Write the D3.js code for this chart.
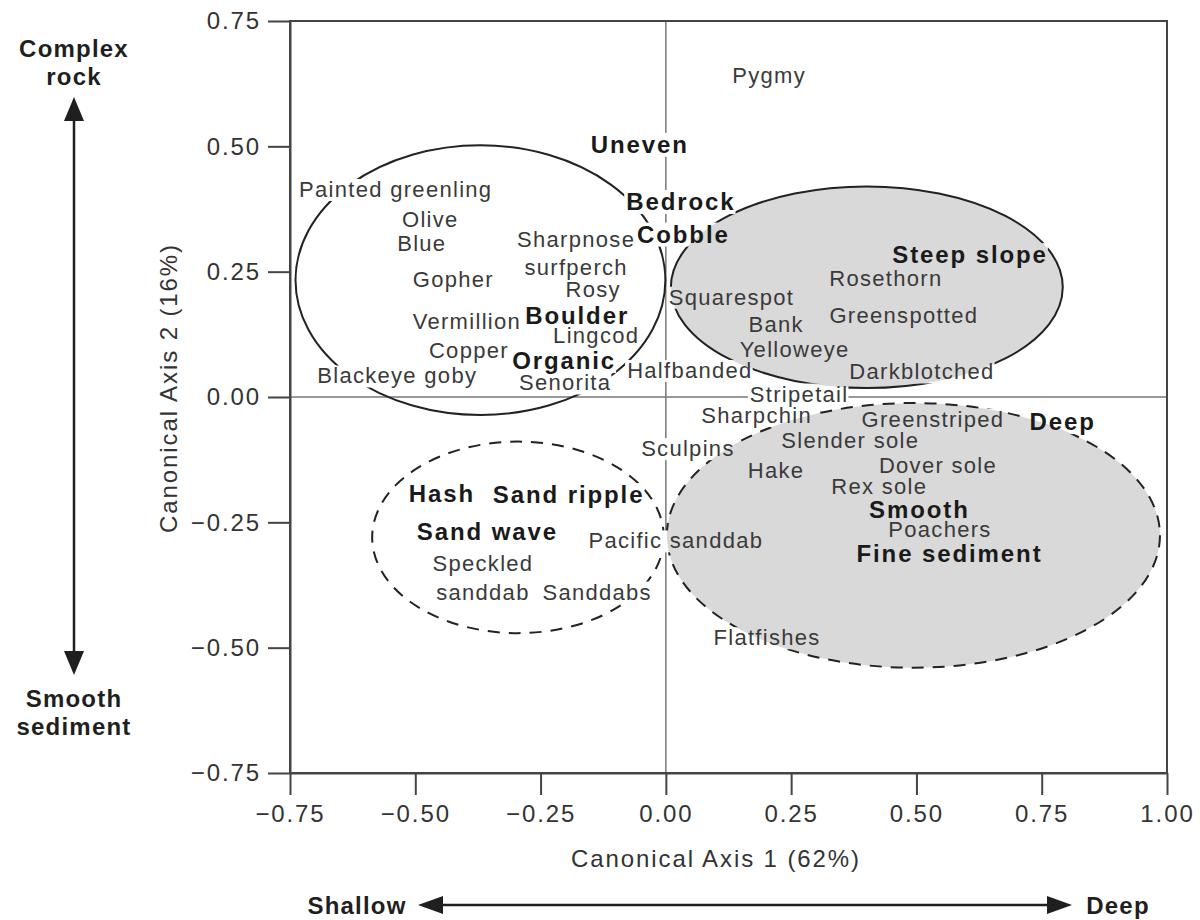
<!DOCTYPE html>
<html>
<head>
<meta charset="utf-8">
<script src="https://cdn.jsdelivr.net/npm/d3@7"></script>
<style>
  body { margin: 0; background: #fff; }
  svg { font-family: "Liberation Sans", Arial, Helvetica, sans-serif; }
</style>
</head>
<body>
<svg width="1200" height="920"></svg>
<script>
// tick values on both canonical axes
var xTicks = [-0.75, -0.5, -0.25, 0, 0.25, 0.5, 0.75, 1];
var yTicks = [-0.75, -0.5, -0.25, 0, 0.25, 0.5, 0.75];

// species scores [name, axis 1, axis 2] (label baseline)
var species = [
  ["Pygmy", 0.206, 0.626],
  ["Painted greenling", -0.539, 0.399],
  ["Olive", -0.470, 0.340],
  ["Blue", -0.487, 0.292],
  ["Gopher", -0.424, 0.219],
  ["Sharpnose\nsurfperch", -0.179, 0.300],
  ["Rosy", -0.145, 0.199],
  ["Vermillion", -0.397, 0.135],
  ["Lingcod", -0.139, 0.108],
  ["Copper", -0.393, 0.077],
  ["Blackeye goby", -0.536, 0.027],
  ["Senorita", -0.201, 0.013],
  ["Halfbanded", 0.048, 0.038],
  ["Squarespot", 0.131, 0.184],
  ["Bank", 0.220, 0.130],
  ["Yelloweye", 0.257, 0.080],
  ["Rosethorn", 0.439, 0.221],
  ["Greenspotted", 0.475, 0.148],
  ["Darkblotched", 0.511, 0.035],
  ["Stripetail", 0.266, -0.009],
  ["Sharpchin", 0.181, -0.052],
  ["Greenstriped", 0.533, -0.059],
  ["Sculpins", 0.044, -0.118],
  ["Slender sole", 0.368, -0.102],
  ["Hake", 0.220, -0.162],
  ["Dover sole", 0.543, -0.152],
  ["Rex sole", 0.426, -0.194],
  ["Poachers", 0.547, -0.279],
  ["Pacific sanddab", 0.020, -0.302],
  ["Speckled\nsanddab", -0.365, -0.348],
  ["Sanddabs", -0.137, -0.404],
  ["Flatfishes", 0.202, -0.495]
];

// habitat variables [name, axis 1, axis 2]
var habitats = [
  ["Uneven", -0.052, 0.487],
  ["Bedrock", 0.030, 0.373],
  ["Cobble", 0.035, 0.308],
  ["Steep slope", 0.607, 0.267],
  ["Boulder", -0.177, 0.146],
  ["Organic", -0.203, 0.056],
  ["Deep", 0.792, -0.066],
  ["Hash", -0.447, -0.209],
  ["Sand ripple", -0.194, -0.212],
  ["Sand wave", -0.356, -0.285],
  ["Smooth", 0.506, -0.241],
  ["Fine sediment", 0.566, -0.329]
];

// assemblage groups: centre and half-extent on each axis
var groupNames  = ["shallow rock", "deep rock", "shallow sediment", "deep sediment"];
var groupCx     = [-0.370, 0.401, -0.295, 0.494];
var groupCy     = [0.233, 0.219, -0.280, -0.276];
var groupRx     = [0.369, 0.391, 0.291, 0.492];
var groupRy     = [0.269, 0.201, 0.191, 0.264];

var groups = groupNames.map(function(n, i) {
  return {name: n, cx: groupCx[i], cy: groupCy[i], rx: groupRx[i], ry: groupRy[i],
          deep: n.indexOf("deep") === 0, sediment: n.indexOf("sediment") > 0};
});

var svg = d3.select("svg");
var shade = "#d9d9d9";

var x = d3.scaleLinear().domain([-0.75, 1]).range([290, 1167]);
var y = d3.scaleLinear().domain([-0.75, 0.75]).range([773, 21]);

var defs = svg.append("defs");

function ellipse(sel) {
  return sel
    .attr("cx", function(d) { return x(d.cx); })
    .attr("cy", function(d) { return y(d.cy); })
    .attr("rx", function(d) { return x(d.rx) - x(0); })
    .attr("ry", function(d) { return y(0) - y(d.ry); });
}

// shaded fills (not broken by labels)
svg.selectAll(".fill")
  .data(groups.filter(function(d) { return d.deep; }))
  .enter().append("ellipse")
  .attr("class", "fill")
  .call(ellipse)
  .style("fill", shade);

// lines that the labels break
var lines = svg.append("g").attr("mask", "url(#labelGaps)");

lines.append("line")
  .attr("x1", x(0)).attr("x2", x(0)).attr("y1", y(0.75)).attr("y2", y(-0.75))
  .style("stroke", "#777").style("stroke-width", 1.5);
lines.append("line")
  .attr("x1", x(-0.75)).attr("x2", x(1)).attr("y1", y(0)).attr("y2", y(0))
  .style("stroke", "#777").style("stroke-width", 1.5);

lines.selectAll(".group")
  .data(groups)
  .enter().append("ellipse")
  .attr("class", "group")
  .call(ellipse)
  .style("fill", "none")
  .style("stroke", "#222")
  .style("stroke-width", 2)
  .style("stroke-dasharray", function(d) { return d.sediment ? "12,9" : null; });

var labels = species.map(function(d) { return {name: d[0], x: d[1], y: d[2], bold: false}; })
  .concat(habitats.map(function(d) { return {name: d[0], x: d[1], y: d[2], bold: true}; }));

var texts = svg.append("g").selectAll("text")
  .data(labels)
  .enter().append("text")
  .attr("x", function(d) { return x(d.x); })
  .attr("y", function(d) { return y(d.y); })
  .attr("text-anchor", "middle")
  .style("font-size", function(d) { return d.bold ? "24px" : "22px"; })
  .style("font-weight", function(d) { return d.bold ? "bold" : "normal"; })
  .style("letter-spacing", function(d) { return d.bold ? "1.9px" : "1.3px"; })
  .style("fill", function(d) { return d.bold ? "#1a1a1a" : "#3a3a3a"; });

texts.each(function(d) {
  d3.select(this).selectAll("tspan")
    .data(d.name.split("\n"))
    .enter().append("tspan")
    .attr("x", x(d.x))
    .attr("dy", function(l, i) { return i === 0 ? 0 : 28.3; })
    .text(function(l) { return l; });
});

// gaps in the lines behind each label line
var gaps = [];
texts.selectAll("tspan").each(function() {
  var b = this.getBBox();
  gaps.push({x: b.x, y: b.y + 3, w: b.width, h: b.height - 5});
});
var mask = defs.append("mask").attr("id", "labelGaps")
  .attr("maskUnits", "userSpaceOnUse")
  .attr("x", 0).attr("y", 0).attr("width", 1200).attr("height", 920);
mask.append("rect").attr("width", 1200).attr("height", 920).style("fill", "#fff");
mask.selectAll(".gap")
  .data(gaps)
  .enter().append("rect")
  .attr("class", "gap")
  .attr("x", function(d) { return d.x - 2; })
  .attr("y", function(d) { return d.y - 1; })
  .attr("width", function(d) { return d.w + 2; })
  .attr("height", function(d) { return d.h + 2; })
  .style("fill", "#000");

// frame
svg.append("rect")
  .attr("x", x(-0.75)).attr("y", y(0.75))
  .attr("width", x(1) - x(-0.75)).attr("height", y(-0.75) - y(0.75))
  .style("fill", "none").style("stroke", "#444").style("stroke-width", 2);

// axes
var fmt = d3.format(".2f");
var xAxis = svg.append("g")
  .attr("transform", "translate(0," + y(-0.75) + ")")
  .call(d3.axisBottom(x).tickValues(xTicks).tickFormat(fmt).tickSize(22).tickSizeOuter(0).tickPadding(8));
var yAxis = svg.append("g")
  .attr("transform", "translate(" + x(-0.75) + ",0)")
  .call(d3.axisLeft(y).tickValues(yTicks).tickFormat(fmt).tickSize(22).tickSizeOuter(0).tickPadding(8));

[xAxis, yAxis].forEach(function(a) {
  a.select(".domain").style("stroke", "#444").style("stroke-width", 2);
  a.selectAll(".tick line").style("stroke", "#444").style("stroke-width", 2);
  a.selectAll(".tick text")
    .style("font-family", "'Liberation Sans', Arial, sans-serif")
    .style("font-size", "24px").style("letter-spacing", "1.9px").style("fill", "#333");
});
xAxis.selectAll(".tick text").attr("dy", "0.78em");
yAxis.selectAll(".tick text").attr("x", -29);

// axis titles
svg.append("text")
  .attr("x", 716).attr("y", 867)
  .attr("text-anchor", "middle")
  .style("font-size", "24px").style("letter-spacing", "1.9px").style("fill", "#333")
  .text("Canonical Axis 1 (62%)");
svg.append("text")
  .attr("transform", "translate(177,388) rotate(-90)")
  .attr("text-anchor", "middle")
  .style("font-size", "24px").style("letter-spacing", "1.9px").style("fill", "#333")
  .text("Canonical Axis 2 (16%)");

// gradient annotations
var ink = "#1f1f1f";
function note(tx, ty, lines) {
  var t = svg.append("text")
    .attr("x", tx).attr("y", ty)
    .attr("text-anchor", "middle")
    .style("font-size", "24px").style("font-weight", "bold")
    .style("letter-spacing", "1.2px").style("fill", ink);
  lines.forEach(function(l, i) {
    t.append("tspan").attr("x", tx).attr("dy", i === 0 ? 0 : 28).text(l);
  });
}
note(74, 57, ["Complex", "rock"]);
note(74, 707, ["Smooth", "sediment"]);
note(357, 914, ["Shallow"]);
note(1118, 914, ["Deep"]);

svg.append("line")
  .attr("x1", 74).attr("x2", 74).attr("y1", 115).attr("y2", 660)
  .style("stroke", ink).style("stroke-width", 2.5);
svg.append("path").attr("d", "M74,97 L64,121 L84,121 Z").style("fill", ink);
svg.append("path").attr("d", "M74,675 L64,651 L84,651 Z").style("fill", ink);

svg.append("line")
  .attr("x1", 436).attr("x2", 1054).attr("y1", 905).attr("y2", 905)
  .style("stroke", ink).style("stroke-width", 2.5);
svg.append("path").attr("d", "M418,905 L443,896 L443,914 Z").style("fill", ink);
svg.append("path").attr("d", "M1072,905 L1047,896 L1047,914 Z").style("fill", ink);
</script>
</body>
</html>
